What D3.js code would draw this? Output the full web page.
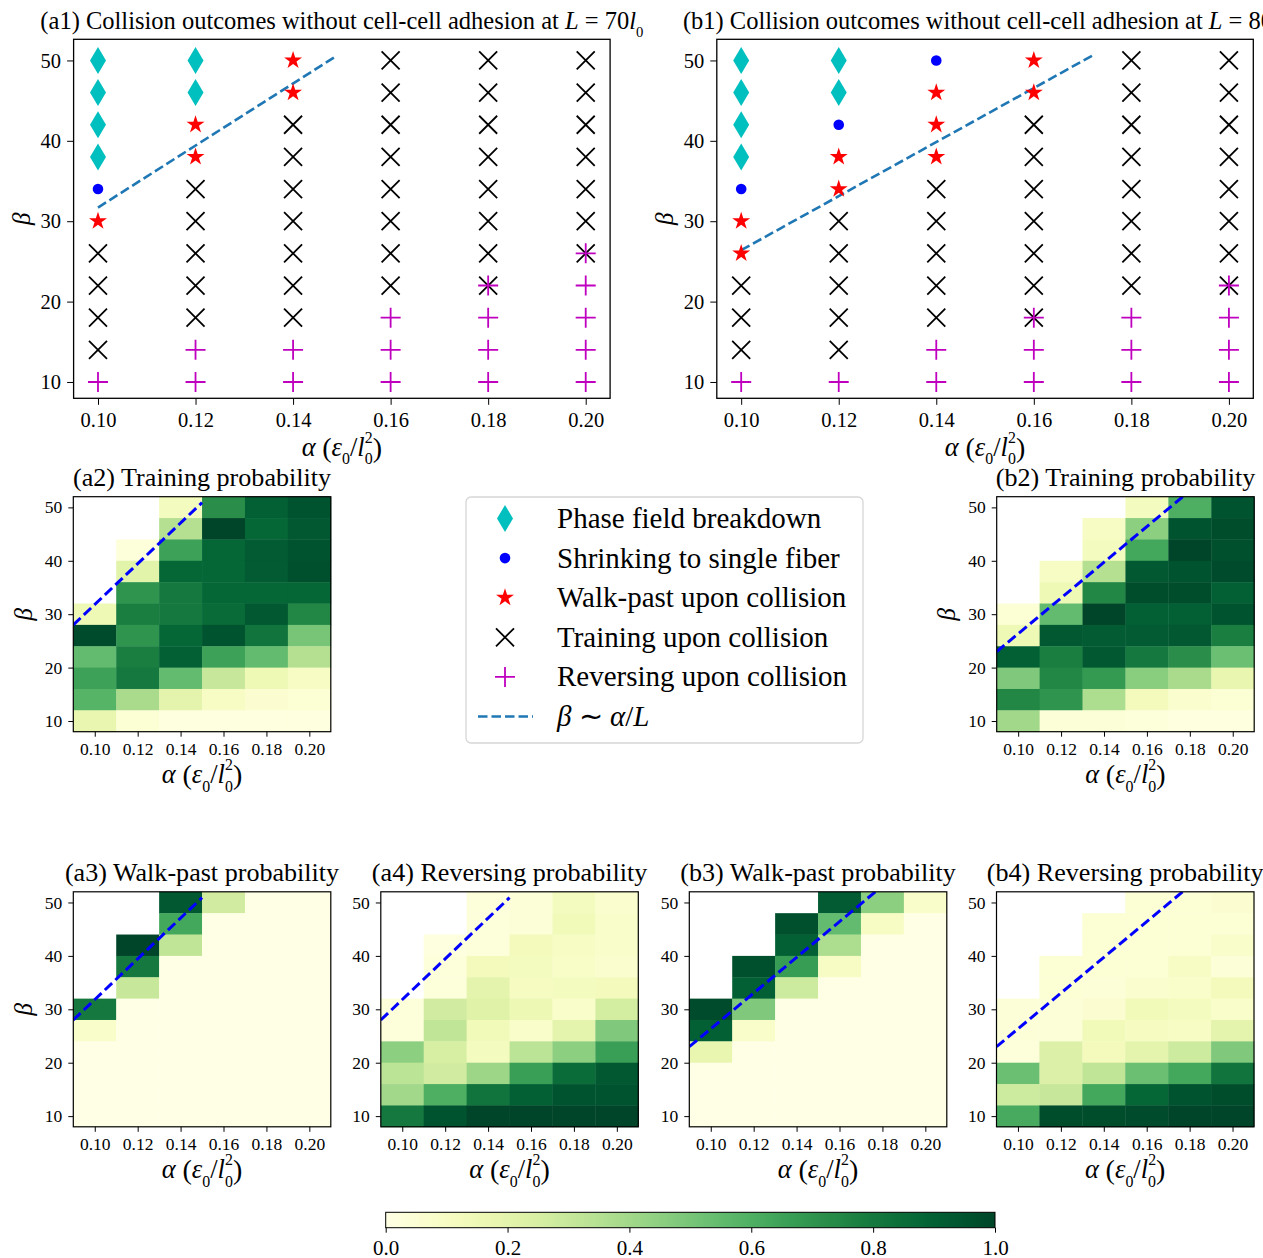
<!DOCTYPE html>
<html>
<head>
<meta charset="utf-8">
<script src="https://cdn.jsdelivr.net/npm/d3@7"></script>
<style>
  body { margin: 0; background: #fff; }
  svg text { font-family: "Liberation Serif", "Times New Roman", serif; fill: #000; }
</style>
</head>
<body>
<svg id="fig" width="1263" height="1258"></svg>
<script>
// ---------------- data ----------------
const alphas = [0.10, 0.12, 0.14, 0.16, 0.18, 0.20];
// rows run from the top of each panel (beta = 50) down to beta = 10
const betas = [50, 46, 42, 38, 34, 30, 26, 22, 18, 14, 10];
const alphaTicks = [0.10, 0.12, 0.14, 0.16, 0.18, 0.20];
const betaTicks = [10, 20, 30, 40, 50];
const colorbarTicks = [0.0, 0.2, 0.4, 0.6, 0.8, 1.0];

// collision outcome per (alpha column, beta row)
// D = phase field breakdown, o = shrinking, * = walk-past, x = training, + = reversing
const outcomesL70 = [
  ["D","D","D","D","o","*","x","x","x","x","+"],
  ["D","D","*","*","x","x","x","x","x","+","+"],
  ["*","*","x","x","x","x","x","x","x","+","+"],
  ["x","x","x","x","x","x","x","x","+","+","+"],
  ["x","x","x","x","x","x","x","x+","+","+","+"],
  ["x","x","x","x","x","x","x+","+","+","+","+"]
];
const outcomesL80 = [
  ["D","D","D","D","o","*","*","x","x","x","+"],
  ["D","D","o","*","*","x","x","x","x","x","+"],
  ["o","*","*","*","x","x","x","x","x","+","+"],
  ["*","*","x","x","x","x","x","x","x+","+","+"],
  ["x","x","x","x","x","x","x","x","+","+","+"],
  ["x","x","x","x","x","x","x","x+","+","+","+"]
];

// beta ~ alpha / L guide lines (alpha, beta end points)
const guideL70Scatter = [[0.10, 31.7], [0.149, 50.6]];
const guideL80Scatter = [[0.10, 26.4], [0.172, 50.6]];
const guideL70Map = [[0.09, 28.0], [0.15, 50.9]];
const guideL80Map = [[0.09, 23.0], [0.18, 53.1]];

// probabilities, rows beta = 50 ... 10, columns alpha = 0.10 ... 0.20 (null = no data)
const trainingL70 = [
  [null, null, 0.12, 0.72, 0.90, 0.95],
  [null, null, 0.35, 1.00, 0.88, 0.93],
  [null, 0.03, 0.65, 0.88, 0.92, 0.95],
  [null, 0.21, 0.88, 0.88, 0.92, 0.96],
  [null, 0.70, 0.80, 0.88, 0.88, 0.88],
  [0.15, 0.78, 0.80, 0.86, 0.93, 0.75],
  [0.98, 0.70, 0.88, 0.95, 0.82, 0.50],
  [0.55, 0.78, 0.90, 0.65, 0.55, 0.35],
  [0.65, 0.80, 0.55, 0.30, 0.15, 0.10],
  [0.58, 0.38, 0.20, 0.10, 0.06, 0.05],
  [0.18, 0.05, 0.02, 0.02, 0.02, 0.02]
];
const walkPastL70 = [
  [null, null, 0.93, 0.27, 0.00, 0.00],
  [null, null, 0.63, 0.00, 0.00, 0.00],
  [null, 1.00, 0.32, 0.00, 0.00, 0.00],
  [null, 0.80, 0.00, 0.00, 0.00, 0.00],
  [null, 0.30, 0.00, 0.00, 0.00, 0.00],
  [0.80, 0.00, 0.00, 0.00, 0.00, 0.00],
  [0.08, 0.00, 0.00, 0.00, 0.00, 0.00],
  [0.00, 0.00, 0.00, 0.00, 0.00, 0.00],
  [0.00, 0.00, 0.00, 0.00, 0.00, 0.00],
  [0.00, 0.00, 0.00, 0.00, 0.00, 0.00],
  [0.00, 0.00, 0.00, 0.00, 0.00, 0.00]
];
const reversingL70 = [
  [null, null, 0.03, 0.04, 0.12, 0.07],
  [null, null, 0.03, 0.04, 0.14, 0.08],
  [null, 0.02, 0.03, 0.13, 0.10, 0.08],
  [null, 0.03, 0.13, 0.12, 0.09, 0.07],
  [null, 0.03, 0.20, 0.11, 0.12, 0.13],
  [0.03, 0.27, 0.22, 0.16, 0.08, 0.26],
  [0.03, 0.32, 0.14, 0.08, 0.20, 0.48],
  [0.45, 0.25, 0.12, 0.33, 0.45, 0.66],
  [0.33, 0.27, 0.41, 0.66, 0.85, 0.93],
  [0.40, 0.60, 0.82, 0.90, 0.95, 0.95],
  [0.80, 0.95, 1.00, 1.00, 1.00, 1.00]
];
const trainingL80 = [
  [null, null, null, 0.12, 0.60, 0.95],
  [null, null, 0.10, 0.45, 0.95, 0.97],
  [null, null, 0.12, 0.63, 1.00, 0.96],
  [null, 0.10, 0.35, 0.93, 0.95, 0.98],
  [null, 0.15, 0.75, 0.97, 0.97, 0.90],
  [0.05, 0.55, 1.00, 0.90, 0.90, 0.95],
  [0.15, 0.93, 0.92, 0.92, 0.93, 0.78],
  [0.90, 0.78, 0.93, 0.80, 0.72, 0.53],
  [0.48, 0.75, 0.68, 0.46, 0.38, 0.18],
  [0.75, 0.70, 0.37, 0.13, 0.07, 0.05],
  [0.40, 0.04, 0.04, 0.03, 0.02, 0.02]
];
const walkPastL80 = [
  [null, null, null, 0.92, 0.45, 0.08],
  [null, null, 0.96, 0.55, 0.10, 0.00],
  [null, null, 0.90, 0.37, 0.00, 0.00],
  [null, 0.96, 0.67, 0.10, 0.00, 0.00],
  [null, 0.90, 0.28, 0.00, 0.00, 0.00],
  [0.98, 0.48, 0.00, 0.00, 0.00, 0.00],
  [0.90, 0.08, 0.00, 0.00, 0.00, 0.00],
  [0.18, 0.00, 0.00, 0.00, 0.00, 0.00],
  [0.00, 0.00, 0.00, 0.00, 0.00, 0.00],
  [0.00, 0.00, 0.00, 0.00, 0.00, 0.00],
  [0.00, 0.00, 0.00, 0.00, 0.00, 0.00]
];
const reversingL80 = [
  [null, null, null, 0.05, 0.05, 0.06],
  [null, null, 0.05, 0.05, 0.05, 0.05],
  [null, null, 0.05, 0.05, 0.05, 0.08],
  [null, 0.05, 0.05, 0.05, 0.10, 0.04],
  [null, 0.05, 0.04, 0.07, 0.08, 0.13],
  [0.04, 0.04, 0.06, 0.14, 0.12, 0.08],
  [0.04, 0.04, 0.14, 0.11, 0.10, 0.20],
  [0.03, 0.23, 0.13, 0.20, 0.28, 0.48],
  [0.53, 0.23, 0.32, 0.53, 0.63, 0.82],
  [0.28, 0.30, 0.63, 0.88, 0.95, 0.97],
  [0.62, 0.97, 0.97, 0.98, 1.00, 1.00]
];

// ---------------- drawing ----------------
const svg = d3.select("#fig");
const color = d3.interpolateYlGn;
const markerColors = { D: "#00bfbf", o: "#0000ff", "*": "#ff0000", x: "#000000", "+": "#bf00bf" };

// rich text helper: parts are [string, kind, dx] with kind in {undefined, "i", "sub", "sup", "big"}
function richText(g, x, y, size, parts, anchor) {
  const t = g.append("text").attr("x", x).attr("y", y)
    .attr("text-anchor", anchor || "middle").style("font-size", size + "px");
  let shift = 0;
  parts.forEach(([s, kind, dx]) => {
    const sp = t.append("tspan").text(s);
    let target = 0;
    if (kind === "i") sp.attr("font-style", "italic");
    if (kind === "sub") { sp.style("font-size", (size * 0.6) + "px"); target = size * 0.32; }
    if (kind === "sup") { sp.style("font-size", (size * 0.6) + "px"); target = -size * 0.5; }
    if (kind === "big") { sp.style("font-size", (size * 1.06) + "px"); target = size * 0.03; }
    if (target !== shift) { sp.attr("dy", target - shift); shift = target; }
    if (dx) sp.attr("dx", dx);
  });
  return t;
}

function alphaLabel(g, x, y, size) {
  return richText(g, x, y, size, [
    ["α", "i"], [" "], ["(", "big"], ["ε", "i"], ["0", "sub"], ["/"], ["l", "i"],
    ["0", "sub"], ["2", "sup", -size * 0.3], [")", "big"]
  ]);
}

function betaLabel(g, cx, cy, size) {
  g.append("text")
    .attr("transform", `translate(${cx + size * 0.3},${cy}) rotate(-90)`)
    .attr("text-anchor", "middle").style("font-size", size + "px")
    .attr("font-style", "italic").text("β");
}

function styleAxis(sel, size) {
  sel.attr("font-family", null).attr("font-size", null);
  sel.selectAll("text").style("font-size", size + "px");
  sel.selectAll("line").attr("stroke", "#000").attr("stroke-width", 1);
  sel.select(".domain").remove();
}

const diamondPath = (w, h) => `M0,${-h}L${w},0L0,${h}L${-w},0Z`;
const starPath = d3.symbol(d3.symbolStar).size(100)();

function drawMarker(g, kind, cx, cy) {
  const c = markerColors[kind];
  const m = g.append("g").attr("transform", `translate(${cx},${cy})`);
  if (kind === "D") m.append("path").attr("d", diamondPath(8, 13.5)).attr("fill", c);
  else if (kind === "o") m.append("circle").attr("r", 5.3).attr("fill", c);
  else if (kind === "*") m.append("path").attr("d", starPath).attr("fill", c);
  else if (kind === "x") m.append("path").attr("d", "M-9,-9L9,9M-9,9L9,-9")
    .attr("stroke", c).attr("stroke-width", 1.8).attr("fill", "none");
  else if (kind === "+") m.append("path").attr("d", "M-10,0L10,0M0,-10L0,10")
    .attr("stroke", c).attr("stroke-width", 1.8).attr("fill", "none");
}

let clipId = 0;
function scatterPanel(x0, outcomes, guide, titleParts) {
  const top = 39.3, bottom = 398.3, w = 536.5;
  const g = svg.append("g");
  const xs = d3.scaleLinear().domain([0.095, 0.205]).range([x0, x0 + w]);
  const ys = d3.scaleLinear().domain([7.97, 52.63]).range([bottom, top]);

  // guide line
  g.append("path")
    .attr("d", d3.line().x(d => xs(d[0])).y(d => ys(d[1]))(guide))
    .attr("stroke", "#1f77b4").attr("stroke-width", 2.6).attr("fill", "none")
    .attr("stroke-dasharray", "9.5,4");

  // markers layered by outcome type
  ["D", "o", "*", "x", "+"].forEach(kind => {
    alphas.forEach((a, i) => {
      betas.forEach((b, j) => {
        if (outcomes[i][j].includes(kind)) drawMarker(g, kind, xs(a), ys(b));
      });
    });
  });

  g.append("rect").attr("x", x0).attr("y", top).attr("width", w).attr("height", bottom - top)
    .attr("fill", "none").attr("stroke", "#000").attr("stroke-width", 1.3);

  g.append("g").attr("transform", `translate(0,${bottom})`)
    .call(d3.axisBottom(xs).tickValues(alphaTicks).tickFormat(d3.format(".2f"))
      .tickSizeOuter(0).tickSize(6.5).tickPadding(8))
    .call(s => styleAxis(s, 20.5));
  g.append("g").attr("transform", `translate(${x0},0)`)
    .call(d3.axisLeft(ys).tickValues(betaTicks).tickSizeOuter(0).tickSize(6.5).tickPadding(6))
    .call(s => styleAxis(s, 20.5));

  richText(g, x0 + w / 2, top - 10, 24.5, titleParts);
  alphaLabel(g, x0 + w / 2, 456, 26.5);
  betaLabel(g, x0 - 51, (top + bottom) / 2, 25);
}

function heatPanel(x0, y0, data, guide, title, showBeta) {
  const w = 257.5, h = 235;
  const g = svg.append("g");
  const xs = d3.scaleLinear().domain([0.09, 0.21]).range([x0, x0 + w]);
  const ys = d3.scaleLinear().domain([8, 52]).range([y0 + h, y0]);

  const cells = [];
  betas.forEach((b, r) => alphas.forEach((a, c) => {
    if (data[r][c] !== null) cells.push({ a, b, v: data[r][c] });
  }));
  g.selectAll("rect.cell").data(cells).join("rect").attr("class", "cell")
    .attr("x", d => xs(d.a - 0.01)).attr("y", d => ys(d.b + 2))
    .attr("width", d => xs(d.a + 0.01) - xs(d.a - 0.01) + 0.4)
    .attr("height", d => ys(d.b - 2) - ys(d.b + 2) + 0.4)
    .attr("fill", d => color(d.v));

  const id = "clip" + (clipId++);
  g.append("clipPath").attr("id", id).append("rect")
    .attr("x", x0).attr("y", y0).attr("width", w).attr("height", h);
  g.append("path").attr("clip-path", `url(#${id})`)
    .attr("d", d3.line().x(d => xs(d[0])).y(d => ys(d[1]))(guide))
    .attr("stroke", "#0000ff").attr("stroke-width", 3).attr("fill", "none")
    .attr("stroke-dasharray", "10,4.5");

  g.append("rect").attr("x", x0).attr("y", y0).attr("width", w).attr("height", h)
    .attr("fill", "none").attr("stroke", "#000").attr("stroke-width", 1.2);

  g.append("g").attr("transform", `translate(0,${y0 + h})`)
    .call(d3.axisBottom(xs).tickValues(alphaTicks).tickFormat(d3.format(".2f"))
      .tickSizeOuter(0).tickSize(5).tickPadding(6))
    .call(s => styleAxis(s, 17.5));
  g.append("g").attr("transform", `translate(${x0},0)`)
    .call(d3.axisLeft(ys).tickValues(betaTicks).tickSizeOuter(0).tickSize(5).tickPadding(6))
    .call(s => styleAxis(s, 17.5));

  richText(g, x0 + w / 2, y0 - 11, 26.1, title);
  alphaLabel(g, x0 + w / 2, y0 + h + 51.5, 26.5);
  if (showBeta) betaLabel(g, x0 - 49, y0 + h / 2, 25);
}

// top row: collision outcome maps
scatterPanel(73.6, outcomesL70, guideL70Scatter,
  [["(a1) Collision outcomes without cell-cell adhesion at "], ["L", "i"], [" = 70"], ["l", "i"], ["0", "sub"]]);
scatterPanel(716.8, outcomesL80, guideL80Scatter,
  [["(b1) Collision outcomes without cell-cell adhesion at "], ["L", "i"], [" = 80"], ["l", "i"], ["0", "sub"]]);

// probability maps
heatPanel(73.3, 496.7, trainingL70, guideL70Map, [["(a2) Training probability"]], true);
heatPanel(996.7, 496.7, trainingL80, guideL80Map, [["(b2) Training probability"]], true);
heatPanel(73.3, 891.8, walkPastL70, guideL70Map, [["(a3) Walk-past probability"]], true);
heatPanel(380.8, 891.8, reversingL70, guideL70Map, [["(a4) Reversing probability"]], false);
heatPanel(689.3, 891.8, walkPastL80, guideL80Map, [["(b3) Walk-past probability"]], false);
heatPanel(996.5, 891.8, reversingL80, guideL80Map, [["(b4) Reversing probability"]], false);

// legend
const legendItems = [
  { kind: "D", parts: [["Phase field breakdown"]] },
  { kind: "o", parts: [["Shrinking to single fiber"]] },
  { kind: "*", parts: [["Walk-past upon collision"]] },
  { kind: "x", parts: [["Training upon collision"]] },
  { kind: "+", parts: [["Reversing upon collision"]] },
  { kind: "line", parts: [["β", "i"], [" ∼ "], ["α", "i"], ["/"], ["L", "i"]] }
];
const lg = svg.append("g");
lg.append("rect").attr("x", 466).attr("y", 497).attr("width", 397).attr("height", 246)
  .attr("rx", 5).attr("fill", "#fff").attr("stroke", "#d6d6d6").attr("stroke-width", 1.3);
legendItems.forEach((it, i) => {
  const cy = 518.5 + i * 39.6;
  if (it.kind === "line") {
    lg.append("line").attr("x1", 478).attr("x2", 533).attr("y1", cy).attr("y2", cy)
      .attr("stroke", "#1f77b4").attr("stroke-width", 2.6).attr("stroke-dasharray", "9.5,4");
  } else {
    drawMarker(lg, it.kind, 505, cy);
  }
  richText(lg, 557, cy + 9.5, 29, it.parts, "start");
});

// colorbar
const cbX0 = 385.7, cbX1 = 995, cbY = 1212.3, cbH = 15.4;
const defs = svg.append("defs");
const grad = defs.append("linearGradient").attr("id", "ylgn").attr("x1", "0%").attr("x2", "100%");
d3.range(0, 1.0001, 0.02).forEach(t => grad.append("stop").attr("offset", t).attr("stop-color", color(t)));
svg.append("rect").attr("x", cbX0).attr("y", cbY).attr("width", cbX1 - cbX0).attr("height", cbH)
  .attr("fill", "url(#ylgn)").attr("stroke", "#000").attr("stroke-width", 1);
const cbScale = d3.scaleLinear().domain([0, 1]).range([cbX0, cbX1]);
svg.append("g").attr("transform", `translate(0,${cbY + cbH})`)
  .call(d3.axisBottom(cbScale).tickValues(colorbarTicks).tickFormat(d3.format(".1f"))
    .tickSizeOuter(0).tickSize(5).tickPadding(7))
  .call(s => styleAxis(s, 21));
</script>
</body>
</html>
